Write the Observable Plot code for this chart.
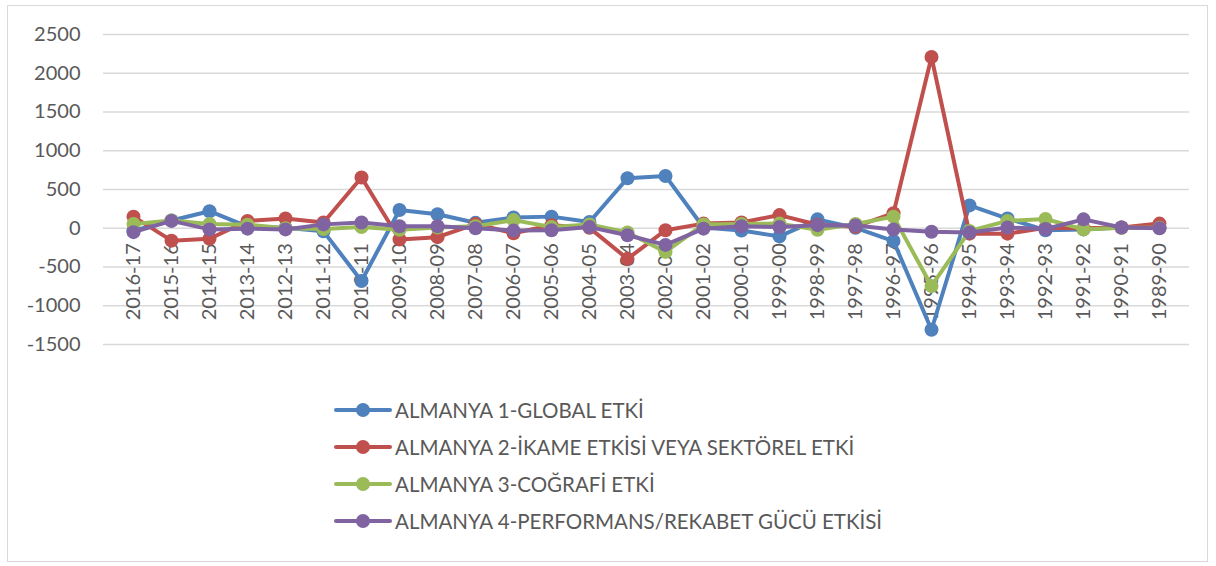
<!DOCTYPE html>
<html>
<head>
<meta charset="utf-8">
<script src="https://cdn.jsdelivr.net/npm/d3@7"></script>
<script src="https://cdn.jsdelivr.net/npm/@observablehq/plot@0.6"></script>
<style>
  body { margin: 0; background: #fff; }
  #wrap { position: relative; width: 1216px; height: 566px; font-family: Lato, "Open Sans", sans-serif; }
  #frame { position: absolute; left: 7px; top: 5px; width: 1199px; height: 555px; border: 1px solid #d9d9d9; pointer-events: none; }
  #chart { position: absolute; left: 0; top: 0; }
  #legend { position: absolute; left: 334px; top: 392px; }
  .item { display: flex; align-items: center; height: 36.8px; font-size: 20.5px; color: #595959; white-space: nowrap; }
  .item svg { margin-right: 3px; }
</style>
</head>
<body>
<div id="wrap">
  <div id="chart"></div>
  <div id="legend"></div>
  <div id="frame"></div>
</div>
<script>
const categories = ["2016-17","2015-16","2014-15","2013-14","2012-13","2011-12","2010-11","2009-10","2008-09","2007-08","2006-07","2005-06","2004-05","2003-04","2002-03","2001-02","2000-01","1999-00","1998-99","1997-98","1996-97","1995-96","1994-95","1993-94","1992-93","1991-92","1990-91","1989-90"];

const seriesNames = [
  "ALMANYA 1-GLOBAL ETKİ",
  "ALMANYA 2-İKAME ETKİSİ VEYA SEKTÖREL ETKİ",
  "ALMANYA 3-COĞRAFİ ETKİ",
  "ALMANYA 4-PERFORMANS/REKABET GÜCÜ ETKİSİ"
];

const globalEtki = [-30, 100, 220, 20, 5, -40, -680, 235, 180, 70, 140, 150, 80, 645, 675, 10, -30, -105, 115, 5, -165, -1310, 295, 125, -25, -15, 10, 5];
const ikameEtki = [150, -160, -135, 95, 125, 75, 655, -145, -115, 55, -65, 40, 5, -395, -25, 60, 75, 170, 45, 20, 195, 2210, -70, -70, 5, 0, 10, 60];
const cografiEtki = [55, 100, 55, 45, 0, -10, 15, -20, 10, 25, 105, 15, 50, -55, -305, 50, 55, 60, -20, 55, 150, -745, -35, 95, 120, -15, 5, 5];
const performansEtki = [-50, 95, -15, -5, -15, 50, 75, 25, 25, 0, -30, -25, 15, -90, -215, -5, 25, 15, 40, 35, -15, -45, -55, 10, -10, 115, 10, 0];

const yTicks = [-1500, -1000, -500, 0, 500, 1000, 1500, 2000, 2500];
const colors = ["#4f81bd", "#c0504d", "#9bbb59", "#8064a2"];

const allValues = [globalEtki, ikameEtki, cografiEtki, performansEtki];
const data = allValues.flatMap((vals, s) =>
  categories.map((c, i) => ({ cat: c, value: vals[i], series: seriesNames[s] }))
);

const seriesMarks = seriesNames.flatMap((name, s) => {
  const d = data.filter(r => r.series === name);
  return [
    Plot.line(d, { x: "cat", y: "value", stroke: colors[s], strokeWidth: 4, strokeLinejoin: "round" }),
    Plot.dot(d, { x: "cat", y: "value", fill: colors[s], r: 7, stroke: "none" })
  ];
});

const chart = Plot.plot({
  width: 1216,
  height: 566,
  marginLeft: 103,
  marginRight: 27,
  marginTop: 34,
  marginBottom: 222,
  style: { fontFamily: "Lato, 'Open Sans', sans-serif", fontSize: "20px", color: "#595959", background: "transparent" },
  x: { type: "point", domain: categories, padding: 0.5, axis: null },
  y: { domain: [-1500, 2500], axis: null },
  marks: [
    Plot.ruleY(yTicks, { stroke: "#d9d9d9", strokeWidth: 1.5 }),
    Plot.axisY(yTicks, { tickSize: 0, tickPadding: 23, label: null, fill: "#595959", fontSize: 20, tickFormat: d => String(d) }),
    Plot.text(categories, { x: d => d, y: () => 0, rotate: -90, textAnchor: "end", dy: 15, fill: "#595959", fontSize: 20 }),
    ...seriesMarks
  ]
});
document.getElementById("chart").appendChild(chart);

const legend = document.getElementById("legend");
seriesNames.forEach((name, s) => {
  const item = document.createElement("div");
  item.className = "item";
  item.innerHTML = `<svg width="58" height="16"><line x1="2" x2="56" y1="8" y2="8" stroke="${colors[s]}" stroke-width="4" stroke-linecap="round"/><circle cx="29" cy="8" r="7" fill="${colors[s]}"/></svg><span>${name}</span>`;
  legend.appendChild(item);
});
</script>
</body>
</html>
